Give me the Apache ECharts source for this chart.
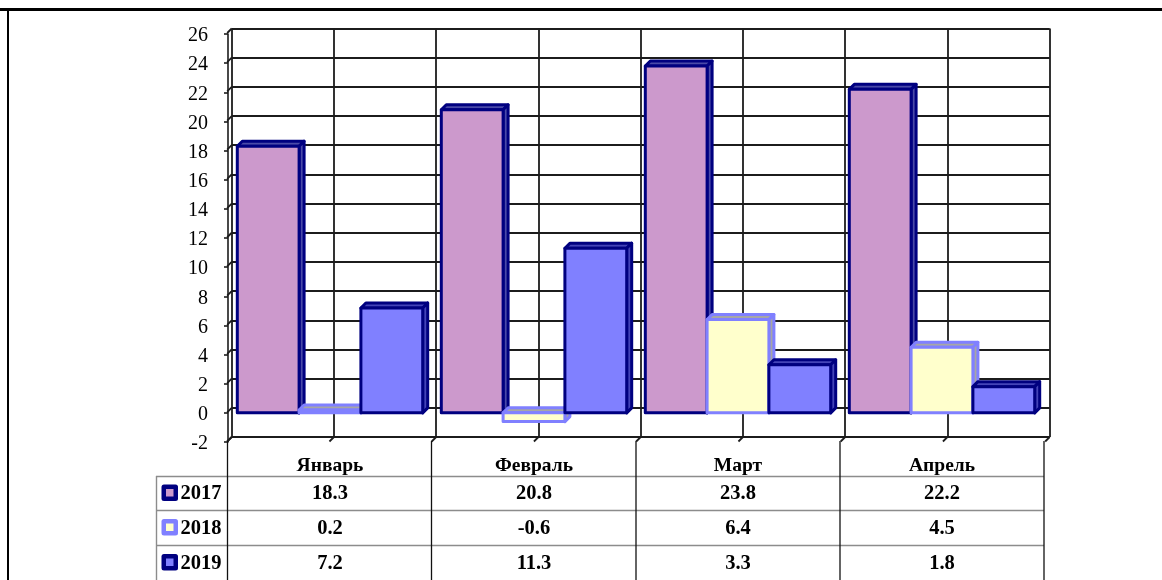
<!DOCTYPE html>
<html><head><meta charset="utf-8">
<style>html,body{margin:0;padding:0;background:#fff}#c{width:1162px;height:580px}</style>
<script src="https://cdn.jsdelivr.net/npm/echarts@6/dist/echarts.min.js"></script>
</head><body><div id="c"></div>
<script>
const categories = ['Январь', 'Февраль', 'Март', 'Апрель'];
const years = ['2017', '2018', '2019'];
const values2017 = [18.3, 20.8, 23.8, 22.2];
const values2018 = [0.2, -0.6, 6.4, 4.5];
const values2019 = [7.2, 11.3, 3.3, 1.8];
const yTicks = [-2, 0, 2, 4, 6, 8, 10, 12, 14, 16, 18, 20, 22, 24, 26];
const wallLines = [0, 1, 2, 3, 4, 5, 6, 7, 8];

const allValues = [values2017, values2018, values2019];
const fills = ['#CC99CC', '#FFFFCC', '#8080FF'];
const borders = ['#000080', '#8080FF', '#000080'];
const shades = ['#4A4AA8', '#A6A6A6', '#4444B8'];
const FONT = '"Liberation Serif", serif';
const DEPTH = 5, BAR_W = 61.8, LINE = '#1c1c1c';
const GRID_L = 228, GRID_R = 1044, ROW_Y = [494, 528.5, 563.5];

function barSeries(si) {
  return {
    type: 'custom', xAxisIndex: 0, yAxisIndex: 0, z: 5 + si,
    data: categories.map((c, i) => [i, allValues[si][i]]),
    renderItem(params, api) {
      const c = api.coord([api.value(0), 0]);
      const t = api.coord([api.value(0), api.value(1)]);
      const x0 = c[0] - BAR_W * 1.5 + si * BAR_W, x1 = x0 + BAR_W;
      const top = Math.min(c[1], t[1]), bot = Math.max(c[1], t[1]);
      const base = { stroke: borders[si], lineWidth: 3, lineJoin: 'round' };
      return { type: 'group', children: [
        { type: 'polygon', shape: { points: [[x0, top], [x0 + DEPTH, top - DEPTH], [x1 + DEPTH, top - DEPTH], [x1, top]] },
          style: { ...base, fill: shades[si] } },
        { type: 'polygon', shape: { points: [[x1, top], [x1 + DEPTH, top - DEPTH], [x1 + DEPTH, bot - DEPTH], [x1, bot]] },
          style: { ...base, fill: shades[si] } },
        { type: 'rect', shape: { x: x0, y: top, width: BAR_W, height: bot - top },
          style: { ...base, fill: fills[si] } }
      ] };
    }
  };
}

const connectors = {
  type: 'custom', xAxisIndex: 1, yAxisIndex: 1, z: 3, silent: true,
  data: yTicks.map(v => ['y', v]).concat(wallLines.map(v => ['x', v])),
  encode: { x: 1, y: 1 },
  renderItem(params, api) {
    const kind = params.dataIndex < yTicks.length ? 'y' : 'x';
    const v = api.value(1);
    const p = kind === 'y' ? api.coord([0, v]) : api.coord([v, -2]);
    return { type: 'line', shape: { x1: p[0], y1: p[1], x2: p[0] - 4.5, y2: p[1] + 4.5 },
      style: { stroke: LINE, lineWidth: 1.8 } };
  }
};

const tableRows = [];
allValues.forEach((vals, r) => vals.forEach((v, i) => tableRows.push([i, r, v])));
const tableSeries = {
  type: 'custom', xAxisIndex: 0, yAxisIndex: 0, z: 10, silent: true,
  data: tableRows,
  encode: { x: 0, y: 1 },
  renderItem(params, api) {
    const d = tableRows[params.dataIndex];
    const x = api.coord([d[0], 0])[0];
    return { type: 'text', style: { x, y: ROW_Y[d[1]], text: d[2].toFixed(1), align: 'center', verticalAlign: 'middle',
      fill: '#000', font: 'bold 20.5px ' + FONT } };
  }
};

const g = [];
const ln = (x1, y1, x2, y2, stroke, w) => g.push({ type: 'line', silent: true, z: 20,
  shape: { x1, y1, x2, y2 }, style: { stroke, lineWidth: w } });
ln(0, 9.5, 1162, 9.5, '#000', 3);
ln(8, 9, 8, 580, '#000', 2);
[476.5, 510.5, 545.5].forEach(y => ln(156, y, GRID_R, y, '#8c8c8c', 1.4));
ln(156.5, 476, 156.5, 580, '#8c8c8c', 1.4);
[227.5, 431.5, 636, 840, 1044].forEach(x => ln(x, 441, x, 580, '#111', 1.3));
years.forEach((y, i) => {
  g.push({ type: 'rect', silent: true, z: 21, shape: { x: 161.5, y: ROW_Y[i] - 9.5, width: 16.5, height: 16.5, r: 2.5 },
    style: { fill: borders[i] } });
  g.push({ type: 'rect', silent: true, z: 22, shape: { x: 166, y: ROW_Y[i] - 5, width: 7.5, height: 7.5 },
    style: { fill: fills[i] } });
  g.push({ type: 'text', silent: true, z: 22, style: { x: 180.5, y: ROW_Y[i], text: y, verticalAlign: 'middle', align: 'left',
    fill: '#000', font: 'bold 20.5px ' + FONT } });
});

const chart = echarts.init(document.getElementById('c'), null, { renderer: 'canvas' });
chart.setOption({
  animation: false,
  backgroundColor: '#fff',
  grid: [
    { left: GRID_L, top: 34, width: GRID_R - GRID_L, height: 408, containLabel: false },
    { left: 231.7, top: 28.5, width: 818, height: 408.5, containLabel: false },
    { left: GRID_L, top: 36, width: GRID_R - GRID_L, height: 408, containLabel: false }
  ],
  xAxis: [
    { type: 'category', gridIndex: 0, data: categories, boundaryGap: true,
      axisLine: { show: false }, axisTick: { show: false }, splitLine: { show: false },
      axisLabel: { color: '#000', fontFamily: FONT, fontWeight: 'bold', fontSize: 19.5, margin: 13.5 } },
    { type: 'value', gridIndex: 1, min: 0, max: 8, interval: 1,
      axisLine: { show: false }, axisTick: { show: false }, axisLabel: { show: false },
      splitLine: { show: true, lineStyle: { color: LINE, width: 1.8 } } },
    { type: 'value', gridIndex: 2, min: 0, max: 1, show: false }
  ],
  yAxis: [
    { type: 'value', gridIndex: 0, min: -2, max: 26, interval: 2,
      axisLine: { show: true, lineStyle: { color: LINE, width: 1.6 } },
      axisTick: { show: true, length: 4, lineStyle: { color: LINE, width: 1.6 } },
      splitLine: { show: false },
      axisLabel: { show: false } },
    { type: 'value', gridIndex: 1, min: -2, max: 26, interval: 2,
      axisLine: { show: false }, axisTick: { show: false }, axisLabel: { show: false },
      splitLine: { show: true, lineStyle: { color: LINE, width: 1.8 } } },
    { type: 'value', gridIndex: 2, min: -2, max: 26, interval: 2,
      axisLine: { show: false }, axisTick: { show: false }, splitLine: { show: false },
      axisLabel: { color: '#000', fontFamily: FONT, fontSize: 20, margin: 20 } }
  ],
  series: [connectors, barSeries(0), barSeries(1), barSeries(2), tableSeries],
  graphic: g
});
</script></body></html>
